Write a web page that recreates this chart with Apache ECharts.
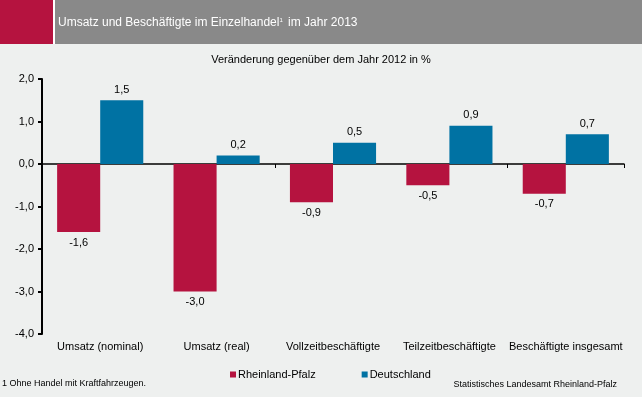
<!DOCTYPE html>
<html>
<head>
<meta charset="utf-8">
<script src="https://cdn.jsdelivr.net/npm/echarts@6/dist/echarts.min.js"></script>
<style>
  html, body { margin: 0; padding: 0; background: #eef0ef; }
  #chart { width: 642px; height: 397px; }
</style>
</head>
<body>
<div id="chart"></div>
<script>
var categories = ['Umsatz (nominal)', 'Umsatz (real)', 'Vollzeitbeschäftigte', 'Teilzeitbeschäftigte', 'Beschäftigte insgesamt'];
var rlp = [-1.6, -3.0, -0.9, -0.5, -0.7];
var de = [1.5, 0.2, 0.5, 0.9, 0.7];
var seriesNames = ['Rheinland-Pfalz', 'Deutschland'];
var colors = ['#b5133f', '#0072a3'];
var font = 'Liberation Sans, Arial, sans-serif';

function fmt(v) { return v.toFixed(1).replace('.', ','); }

// label oben bei positiven, unten bei negativen Werten
function toItems(arr) {
  return arr.map(function (v) {
    return { value: v, label: { position: v < 0 ? 'bottom' : 'top' } };
  });
}

var chart = echarts.init(document.getElementById('chart'));
var option = {
  backgroundColor: '#eef0ef',
  animation: false,
  textStyle: { fontFamily: font },
  graphic: [
    { type: 'rect', shape: { x: 0, y: 0, width: 53, height: 44 }, style: { fill: '#b5133f' } },
    { type: 'rect', shape: { x: 53, y: 0, width: 2, height: 44 }, style: { fill: '#ffffff' } },
    { type: 'rect', shape: { x: 55, y: 0, width: 587, height: 44 }, style: { fill: '#898989' } },
    {
      type: 'text', left: 58, top: 17,
      style: {
        text: 'Umsatz und Beschäftigte im Einzelhandel{s|1} im Jahr 2013',
        fill: '#fff', font: '12px ' + font,
        rich: { s: { fontSize: 6, fill: '#fff', verticalAlign: 'top', padding: [0, 2, 6, 0] } }
      }
    },
    {
      type: 'text', left: 'center', top: 54,
      style: { text: 'Veränderung gegenüber dem Jahr 2012 in %', fill: '#000', font: '11px ' + font }
    },
    {
      type: 'text', left: 2, top: 379,
      style: { text: '1 Ohne Handel mit Kraftfahrzeugen.', fill: '#000', font: '9px ' + font }
    },
    {
      type: 'text', right: 25, top: 380,
      style: { text: 'Statistisches Landesamt Rheinland-Pfalz', fill: '#000', font: '9px ' + font }
    }
  ],
  legend: {
    left: 225, top: 364,
    itemWidth: 6, itemHeight: 6, itemGap: 46,
    icon: 'rect',
    textStyle: { fontSize: 11, color: '#000', fontFamily: font, padding: [0, 0, 0, -3] },
    data: seriesNames
  },
  grid: { left: 42, right: 18, top: 79, bottom: 63 },
  xAxis: [
    {
      type: 'category', data: categories,
      axisLine: { onZero: true, lineStyle: { color: '#000', width: 1.5 } },
      axisTick: { show: true, length: 4, lineStyle: { color: '#000' } },
      axisLabel: { show: false }
    },
    {
      type: 'category', data: categories, position: 'bottom',
      axisLine: { show: false, onZero: false },
      axisTick: { show: false },
      axisLabel: { show: true, interval: 0, margin: 7, fontSize: 11, color: '#000', fontFamily: font }
    }
  ],
  yAxis: {
    type: 'value', min: -4, max: 2, interval: 1,
    splitLine: { show: false },
    axisLine: { show: true, lineStyle: { color: '#000', width: 2 } },
    axisTick: { show: true, length: 4, lineStyle: { color: '#000', width: 2 } },
    axisLabel: { fontSize: 11, color: '#000', margin: 8, formatter: function (v) { return fmt(v); } }
  },
  series: [
    {
      name: seriesNames[0], type: 'bar', data: toItems(rlp),
      itemStyle: { color: colors[0] },
      barGap: '0%', barCategoryGap: '26%',
      label: { show: true, distance: 5, fontSize: 11, color: '#000', formatter: function (p) { return fmt(p.value); } }
    },
    {
      name: seriesNames[1], type: 'bar', data: toItems(de),
      itemStyle: { color: colors[1] },
      barGap: '0%', barCategoryGap: '26%',
      label: { show: true, distance: 5, fontSize: 11, color: '#000', formatter: function (p) { return fmt(p.value); } }
    }
  ]
};
chart.setOption(option);
</script>
</body>
</html>
